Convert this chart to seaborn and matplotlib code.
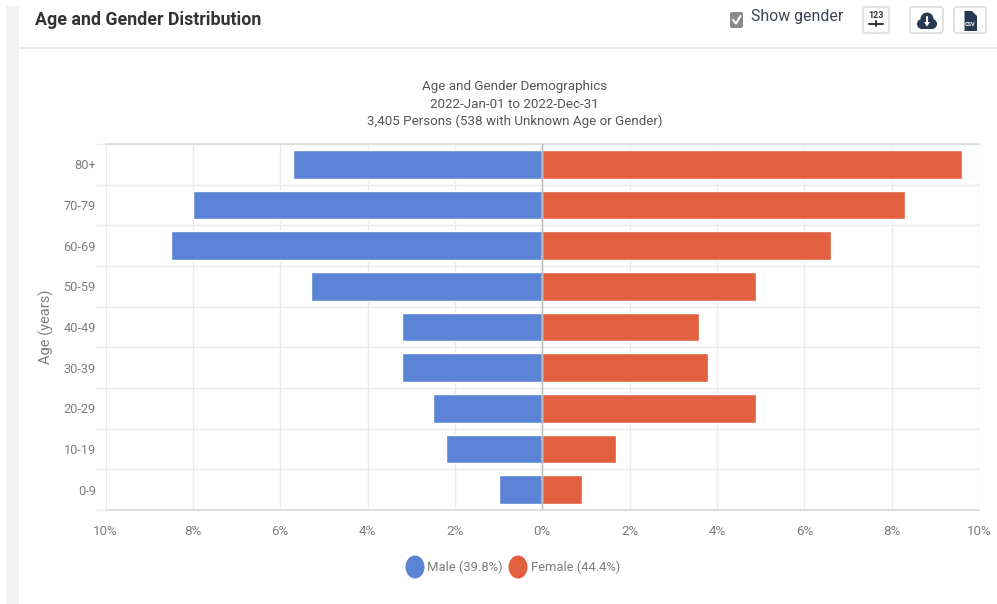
import matplotlib
matplotlib.use("Agg")
import matplotlib.pyplot as plt
from matplotlib.patches import FancyBboxPatch, Rectangle, Ellipse, Polygon
import pandas as pd
import seaborn as sns

age_groups = ["80+", "70-79", "60-69", "50-59", "40-49", "30-39", "20-29", "10-19", "0-9"]
male_pct = [5.7, 8.0, 8.5, 5.3, 3.2, 3.2, 2.5, 2.2, 1.0]
female_pct = [9.6, 8.3, 6.6, 4.9, 3.6, 3.8, 4.9, 1.7, 0.9]
pct_ticks = [-10, -8, -6, -4, -2, 0, 2, 4, 6, 8, 10]
male_label = "Male (39.8%)"
female_label = "Female (44.4%)"
chart_title = ["Age and Gender Demographics", "2022-Jan-01 to 2022-Dec-31",
               "3,405 Persons (538 with Unknown Age or Gender)"]

MALE = "#5b84d6"
FEMALE = "#e2603f"
GRID = "#ebebeb"
TEXT = "#7d7d7d"
DARK = "#333333"
NAVY = "#263a52"

W, H = 997, 604
sns.set_theme(style="white")
plt.rcParams["font.family"] = ["Roboto", "DejaVu Sans"]

frame = pd.DataFrame({
    "age": age_groups * 2,
    "pct": [-v for v in male_pct] + female_pct,
    "sex": ["Male"] * len(age_groups) + ["Female"] * len(age_groups),
})

fig = plt.figure(figsize=(W / 100, H / 100), dpi=100, facecolor="white")

# Page furniture lives on a full-size layer measured in pixels from the top left
page = fig.add_axes([0, 0, 1, 1], zorder=0)
page.set_xlim(0, W)
page.set_ylim(H, 0)
page.axis("off")
page.add_patch(Rectangle((6, 6), 13, H - 6, fc="#f2f2f2", ec="none"))
page.plot([19, W], [47.5, 47.5], color="#ebebeb", lw=1.5)
page.text(35, 20, "Age and Gender Distribution", fontsize=12.8, weight="bold",
          color=DARK, va="center")
page.add_patch(FancyBboxPatch((730, 12), 13, 16, boxstyle="round,pad=0,rounding_size=2",
                              fc="#8a8a8a", ec="none"))
page.plot([733, 736, 740.5], [20, 23.5, 16], color="white", lw=1.5)
page.text(751, 16.5, "Show gender", fontsize=11.4, color="#3d4450", va="center")
for bx, bw in [(863, 26), (910, 33), (954, 32)]:
    page.add_patch(FancyBboxPatch((bx, 7), bw, 26, boxstyle="round,pad=0,rounding_size=2.5",
                                  fc="white", ec="#dddddd", lw=1.2))
page.text(876, 15.5, "123", fontsize=6.5, color=DARK, ha="center", va="center", weight="bold")
page.plot([869, 883], [23.5, 23.5], color=DARK, lw=1.4)
page.plot([876, 876], [21, 26], color=DARK, lw=1.4)
# Cloud download glyph
for cx, cy, rx, ry in [(922, 24, 5, 5), (927, 19, 6.5, 6.5), (932, 24, 5, 5)]:
    page.add_patch(Ellipse((cx, cy), 2 * rx, 2 * ry, fc=NAVY, ec="none"))
page.add_patch(Rectangle((922, 22), 10, 7, fc=NAVY, ec="none"))
page.add_patch(Polygon([(924, 22), (930, 22), (927, 26.5)], fc="white", ec="none"))
page.plot([927, 927], [17, 23], color="white", lw=1.5)
# CSV file glyph
page.add_patch(Polygon([(964.5, 11), (972, 11), (977, 16), (977, 31), (964.5, 31)], fc=NAVY, ec="none"))
page.text(970.5, 24.5, "CSV", fontsize=4, color="white", ha="center", va="center", weight="bold")

for i, line in enumerate(chart_title):
    page.text(514.5, 86.5 + i * 17.5, line, fontsize=9.6, color="#555555", ha="center", va="center")

# Population pyramid
ax = fig.add_axes([105.5 / W, 1 - 510 / H, 873.5 / W, (510 - 144) / H], zorder=1)
ax.patch.set_alpha(0)
ax.set_axisbelow(True)
sns.barplot(data=frame, y="age", x="pct", hue="sex", order=age_groups,
            hue_order=["Male", "Female"], palette={"Male": MALE, "Female": FEMALE},
            dodge=False, width=0.71, orient="h", saturation=1, legend=False, ax=ax)
ax.set_xlim(-10, 10)
ax.set_ylim(len(age_groups) - 0.5, -0.5)
ax.set_xticks(pct_ticks)
ax.set_xticklabels([f"{abs(t)}%" for t in pct_ticks])
ax.set_xlabel("")
ax.set_ylabel("Age (years)", fontsize=10.5, color=TEXT, labelpad=7)
ax.grid(axis="x", color=GRID, lw=1)
# Row separators run a little past the plot area towards the age labels
for edge in [i + 0.5 for i in range(-1, len(age_groups))]:
    ax.axhline(edge, xmin=-10 / 873.5, xmax=1, color=GRID, lw=1, zorder=0.5, clip_on=False)
ax.axvline(0, color="#b8b8b8", lw=1, zorder=3)
ax.tick_params(axis="both", length=0, labelcolor=TEXT)
ax.tick_params(axis="x", pad=11, labelsize=9.6)
ax.tick_params(axis="y", pad=7, labelsize=9.2)
for side in ax.spines.values():
    side.set_visible(False)
ax.spines["bottom"].set_visible(True)
ax.spines["bottom"].set_color("#dcdcdc")
ax.spines["top"].set_visible(True)
ax.spines["top"].set_color("#dcdcdc")

# Legend keys and labels
page.add_patch(Ellipse((415, 567), 19, 23, fc=MALE, ec="none"))
page.text(427, 567, male_label, fontsize=9.4, color=TEXT, va="center")
page.add_patch(Ellipse((518, 567), 19, 23, fc=FEMALE, ec="none"))
page.text(531, 567, female_label, fontsize=9.4, color=TEXT, va="center")

fig.savefig("out.png", dpi=100)
